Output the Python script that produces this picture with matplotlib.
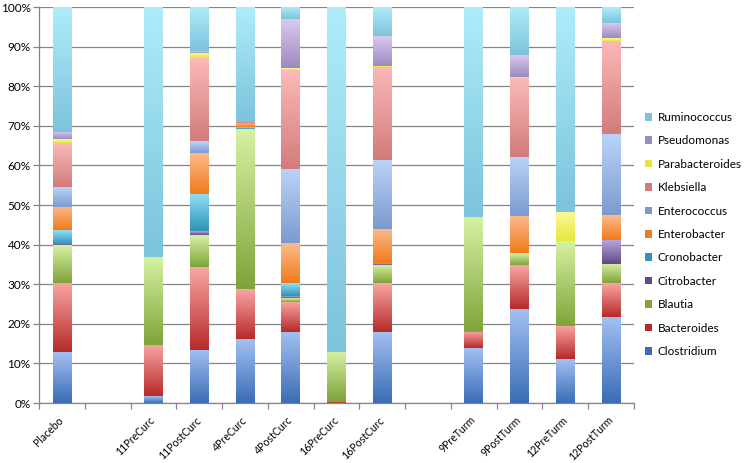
import numpy as np
import matplotlib
matplotlib.use("Agg")
import matplotlib.pyplot as plt
from matplotlib.colors import to_rgb
from matplotlib.patches import Rectangle

plt.rcParams['font.family'] = ['Lato', 'DejaVu Sans']

categories = ["Placebo", "", "11PreCurc", "11PostCurc", "4PreCurc", "4PostCurc",
              "16PreCurc", "16PostCurc", "", "9PreTurm", "9PostTurm", "12PreTurm", "12PostTurm"]

clostridium     = [12.8, 0, 1.7, 13.5, 16.1, 18.0, 0.0, 18.0, 0, 13.8, 23.7, 11.1, 21.8]
bacteroides     = [17.6, 0, 13.0, 20.9, 12.6, 7.6, 0.6, 12.2, 0, 4.2, 11.1, 8.4, 8.4]
blautia         = [9.5, 0, 22.2, 8.0, 40.4, 1.0, 12.4, 4.6, 0, 29.0, 3.0, 21.4, 4.8]
citrobacter     = [0.3, 0, 0.0, 1.0, 0.0, 0.5, 0.0, 0.5, 0, 0.0, 0.0, 0.0, 6.2]
cronobacter     = [3.5, 0, 0.0, 9.4, 0.5, 3.1, 0.0, 0.0, 0, 0.0, 0.0, 0.0, 0.0]
enterobacter    = [5.9, 0, 0.0, 10.4, 0.8, 10.1, 0.0, 8.6, 0, 0.0, 9.5, 0.0, 6.3]
enterococcus    = [5.0, 0, 0.0, 3.0, 0.2, 18.8, 0.0, 17.5, 0, 0.0, 14.9, 0.0, 20.4]
klebsiella      = [11.0, 0, 0.0, 20.8, 0.4, 25.0, 0.0, 23.5, 0, 0.0, 19.8, 0.0, 23.6]
parabacteroides = [1.0, 0, 0.0, 1.5, 0.0, 0.4, 0.0, 0.3, 0, 0.0, 0.3, 7.4, 0.7]
pseudomonas     = [1.8, 0, 0.0, 0.3, 0.0, 12.4, 0.0, 7.6, 0, 0.0, 5.7, 0.0, 3.8]
ruminococcus    = [31.6, 0, 63.1, 11.2, 29.0, 3.1, 87.0, 7.2, 0, 53.0, 12.0, 51.7, 4.0]

series_names = ["Clostridium", "Bacteroides", "Blautia", "Citrobacter", "Cronobacter",
                "Enterobacter", "Enterococcus", "Klebsiella", "Parabacteroides",
                "Pseudomonas", "Ruminococcus"]
series_values = [clostridium, bacteroides, blautia, citrobacter, cronobacter,
                 enterobacter, enterococcus, klebsiella, parabacteroides,
                 pseudomonas, ruminococcus]
# (bottom colour, top colour) for the vertical gradient
series_colors = [("#3a6db5", "#a3c0f2"),
                 ("#b52b28", "#f9a6a5"),
                 ("#7fa43a", "#d6f1a4"),
                 ("#634789", "#bba9dd"),
                 ("#2d95b8", "#93dff7"),
                 ("#f07b1c", "#fdbb8d"),
                 ("#7b9bcf", "#bcd3f9"),
                 ("#d27c7b", "#fbb9b8"),
                 ("#e6e63a", "#fafa9c"),
                 ("#9c8bc0", "#dccaf0"),
                 ("#7dc3dc", "#aeecfa")]

fig = plt.figure(figsize=(7.46, 4.63), dpi=100)
ax = fig.add_axes([39/746, 60/463, 595/746, 396/463])

x = np.arange(len(categories))
bottom = np.zeros(len(categories))
width = 0.41
grid_col = "#868686"

for name, vals, (c0, c1) in zip(series_names, series_values, series_colors):
    vals = np.array(vals, dtype=float)
    bars = ax.bar(x, vals, width, bottom=bottom, color=c1, linewidth=0, zorder=2)
    g0 = np.array(to_rgb(c0)); g1 = np.array(to_rgb(c1))
    t = np.linspace(0, 1, 128)[:, None, None]
    grad = g0 * (1 - t) + g1 * t
    for p in bars:
        h = p.get_height()
        if h <= 0:
            continue
        x0 = p.get_x(); y0 = p.get_y()
        im = ax.imshow(grad, extent=(x0, x0 + p.get_width(), y0, y0 + h),
                       origin='lower', aspect='auto', zorder=3, interpolation='bilinear')
        im.set_clip_path(p)
    bottom += vals

ax.set_xlim(-0.5, len(categories) - 0.5)
ax.set_ylim(0, 100)

ax.set_yticks(np.arange(0, 101, 10))
ax.set_yticklabels([f"{v}%" for v in range(0, 101, 10)])
ax.yaxis.grid(True, color=grid_col, linewidth=0.9, zorder=0)
ax.set_axisbelow(True)

ax.set_xticks(x)
ax.set_xticklabels(categories, rotation=45, ha='right', rotation_mode='anchor')
ax.set_xticks(np.arange(-0.5, len(categories), 1.0), minor=True)
ax.tick_params(axis='x', which='major', length=0, pad=11, labelsize=7.6)
ax.tick_params(axis='x', which='minor', length=4, color=grid_col, width=0.9)
ax.tick_params(axis='y', length=4, color=grid_col, width=0.9, labelsize=8.5, pad=2)
for lbl in ax.get_xticklabels():
    lbl.set_va('center')

for s in ['top', 'right']:
    ax.spines[s].set_visible(False)
for s in ['left', 'bottom']:
    ax.spines[s].set_color(grid_col)
    ax.spines[s].set_linewidth(0.9)

handles = [Rectangle((0, 0), 1, 1, facecolor=series_colors[i][0]) for i in range(len(series_names))][::-1]
labels = series_names[::-1]
leg = fig.legend(handles, labels, loc='upper left', bbox_to_anchor=(645/746, 1 - 112/463),
                 frameon=False, fontsize=8.5, handlelength=0.6, handleheight=0.6,
                 handletextpad=0.5, labelspacing=1.05, borderaxespad=0, borderpad=0)

fig.savefig("out.png", dpi=100)
